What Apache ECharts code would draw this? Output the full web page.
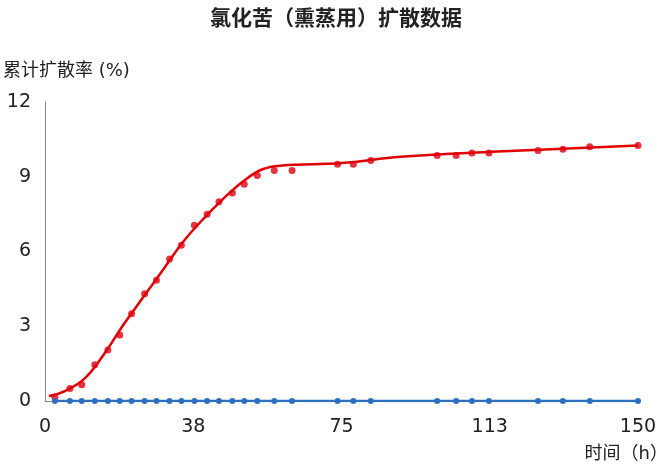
<!DOCTYPE html>
<html><head><meta charset="utf-8">
<script src="https://cdn.jsdelivr.net/npm/echarts@6/dist/echarts.min.js"></script>
<style>html,body{margin:0;padding:0;background:#fff}#c{width:672px;height:475px}</style>
</head><body><div id="c"></div>
<script>
var hours=[2.5,6.3,9.3,12.6,15.9,18.9,21.9,25.2,28.2,31.5,34.5,37.8,41,44,47.4,50.4,53.7,58,62.5,74,78,82.4,99.2,104,108,112.3,124.7,131,137.8,150];
var redRate=[0.15,0.5,0.65,1.45,2.05,2.65,3.5,4.3,4.85,5.7,6.25,7.05,7.5,8.0,8.35,8.7,9.05,9.25,9.25,9.5,9.5,9.65,9.85,9.85,9.95,9.95,10.05,10.1,10.2,10.25];
var blueRate=[0,0,0,0,0,0,0,0,0,0,0,0,0,0,0,0,0,0,0,0,0,0,0,0,0,0,0,0,0,0];
var fitX=[1,5,10,15,20,25,30,35,40,45,50,55,60,75,90,113,150];
var fitY=[0.2,0.4,0.9,1.9,3.1,4.2,5.3,6.4,7.3,8.1,8.8,9.3,9.45,9.55,9.8,10.0,10.25];

function pairs(xs,ys){var a=[];for(var i=0;i<xs.length;i++){a.push([xs[i],ys[i]]);}return a;}
var font='"DejaVu Sans","Noto Sans CJK SC",sans-serif';
var option={
	title:{text:'氯化苦（熏蒸用）扩散数据',left:'center',top:4,textStyle:{fontSize:21,fontWeight:'bold',color:'#222',fontFamily:font}},
	grid:{left:42,right:34,top:102,bottom:74},
	xAxis:{type:'value',min:0,max:150,interval:37.5,offset:7,
		name:'时间（h）',nameLocation:'end',nameGap:0,
		nameTextStyle:{fontSize:18,color:'#222',fontFamily:font,align:'right',verticalAlign:'top',padding:[44,-30,0,0]},
		axisLine:{lineStyle:{color:'#888'}},axisTick:{show:false},splitLine:{show:false},
		axisLabel:{fontSize:19,color:'#222',fontFamily:font,margin:10,formatter:function(v){return Math.round(v);}}},
	yAxis:{type:'value',min:0,max:12,interval:3,
		name:'累计扩散率 (%)',nameLocation:'end',nameGap:22,
		nameTextStyle:{fontSize:18,color:'#222',fontFamily:font,align:'left',padding:[0,0,0,-42]},
		axisLine:{show:true,lineStyle:{color:'#888'}},axisTick:{show:false},splitLine:{show:false},
		axisLabel:{fontSize:19,color:'#222',fontFamily:font,margin:14}},
	series:[
		{type:'line',data:pairs(fitX,fitY),smooth:0.4,showSymbol:false,lineStyle:{color:'#e00000',width:2.5},z:2},
		{type:'scatter',data:pairs(hours,redRate),symbolSize:7,itemStyle:{color:'#e00010'},z:3},
		{type:'line',data:pairs(hours,blueRate),symbolSize:6,symbol:'circle',lineStyle:{color:'#2e6fc0',width:2.5},itemStyle:{color:'#2e6fc0'},z:4}
	]
};
var mychart=echarts.init(document.getElementById('c'));
mychart.setOption(option);
</script></body></html>
